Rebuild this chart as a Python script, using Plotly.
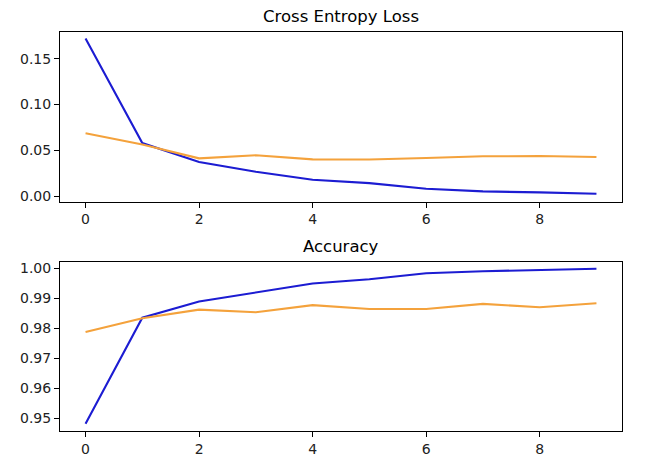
import plotly.graph_objects as go

epochs = list(range(10))
train_loss = [0.172, 0.058, 0.0374, 0.0267, 0.018, 0.0144, 0.0083, 0.0054, 0.0043, 0.0029]
val_loss = [0.0687, 0.0565, 0.0414, 0.0447, 0.0403, 0.0401, 0.0418, 0.0436, 0.0439, 0.0428]
train_acc = [0.9482, 0.9836, 0.989, 0.992, 0.995, 0.9964, 0.9984, 0.9991, 0.9996, 0.9999]
val_acc = [0.9788, 0.9834, 0.9863, 0.9854, 0.9878, 0.9865, 0.9865, 0.9882, 0.9871, 0.9884]

BLUE = "#1c1cd2"
ORANGE = "#f4a23c"
FONT = "DejaVu Sans"

fig = go.Figure()
fig.add_trace(go.Scatter(x=epochs, y=train_loss, mode="lines", line=dict(color=BLUE, width=2.1), xaxis="x", yaxis="y"))
fig.add_trace(go.Scatter(x=epochs, y=val_loss, mode="lines", line=dict(color=ORANGE, width=2.1), xaxis="x", yaxis="y"))
fig.add_trace(go.Scatter(x=epochs, y=train_acc, mode="lines", line=dict(color=BLUE, width=2.1), xaxis="x2", yaxis="y2"))
fig.add_trace(go.Scatter(x=epochs, y=val_acc, mode="lines", line=dict(color=ORANGE, width=2.1), xaxis="x2", yaxis="y2"))

axis_common = dict(showgrid=False, zeroline=False, showline=True, linecolor="black", linewidth=1,
                   mirror=True, ticks="outside", ticklen=5, tickwidth=1, tickcolor="black",
                   tickfont=dict(family=FONT, size=14, color="#222222"))

fig.update_layout(
    width=645, height=461,
    margin=dict(l=46, r=31, t=24, b=34),
    paper_bgcolor="white", plot_bgcolor="white",
    showlegend=False,
    xaxis=dict(domain=[0, 1], anchor="y", range=[-0.45, 9.45], tickvals=[0, 2, 4, 6, 8], **axis_common),
    yaxis=dict(domain=[0.575, 1], anchor="x", range=[-0.0057, 0.179],
               tickvals=[0, 0.05, 0.10, 0.15], tickformat=".2f", **axis_common),
    xaxis2=dict(domain=[0, 1], anchor="y2", range=[-0.45, 9.45], tickvals=[0, 2, 4, 6, 8], **axis_common),
    yaxis2=dict(domain=[0, 0.423], anchor="x2", range=[0.9458, 1.0021],
                tickvals=[0.95, 0.96, 0.97, 0.98, 0.99, 1.00], tickformat=".2f", **axis_common),
    annotations=[
        dict(text="Cross Entropy Loss", x=0.5, y=1, xref="paper", yref="paper", xanchor="center",
             yanchor="bottom", yshift=4, showarrow=False, font=dict(family=FONT, size=16.5, color="black")),
        dict(text="Accuracy", x=0.5, y=0.423, xref="paper", yref="paper", xanchor="center",
             yanchor="bottom", yshift=4, showarrow=False, font=dict(family=FONT, size=16.5, color="black")),
    ],
)

fig.write_html("out.html")
